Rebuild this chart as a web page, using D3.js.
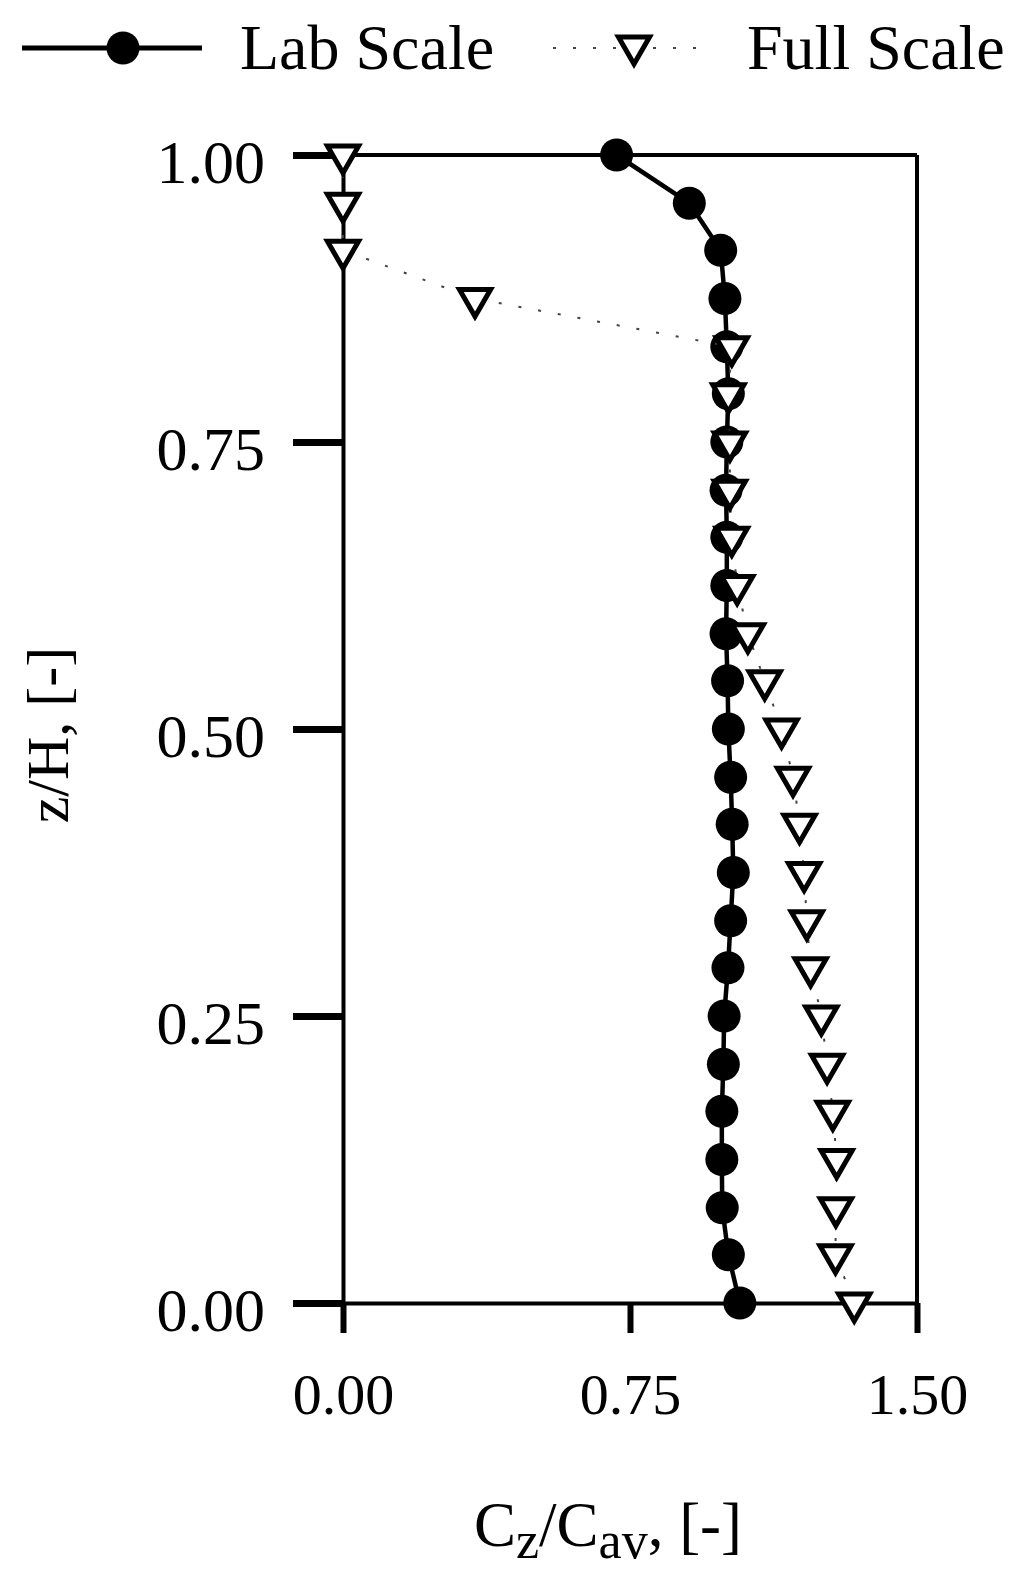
<!DOCTYPE html>
<html>
<head>
<meta charset="utf-8">
<script src="https://cdn.jsdelivr.net/npm/d3@7"></script>
<style>
  html, body { margin: 0; padding: 0; background: #fff; }
  svg { display: block; }
  text { font-family: "Liberation Serif", "Times New Roman", serif; fill: #000; }
</style>
</head>
<body>
<svg id="chart" width="1024" height="1584"></svg>
<script>
// ---- data ----
const zValues = [1.000, 0.958, 0.917, 0.875, 0.833, 0.792, 0.750, 0.708, 0.667, 0.625, 0.583, 0.542,
                 0.500, 0.458, 0.417, 0.375, 0.333, 0.292, 0.250, 0.208, 0.167, 0.125, 0.083, 0.042, 0.000];
const labScale = [0.715, 0.905, 0.987, 0.998, 1.003, 1.007, 1.003, 1.001, 1.003, 1.003, 1.001, 1.005,
                  1.007, 1.013, 1.017, 1.020, 1.013, 1.006, 0.996, 0.994, 0.990, 0.990, 0.991, 1.007, 1.037];
const fullScale = [0.000, 0.000, 0.000, 0.345, 1.016, 1.007, 1.011, 1.011, 1.016, 1.030, 1.058, 1.102,
                   1.146, 1.176, 1.193, 1.205, 1.212, 1.222, 1.250, 1.265, 1.280, 1.290, 1.288, 1.287, 1.336];
const xTicks = [0, 0.75, 1.5];
const yTicks = [0, 0.25, 0.5, 0.75, 1.0];
const seriesNames = ["Lab Scale", "Full Scale"];

// ---- layout ----
const svg = d3.select("#chart");
const pLeft = 343, pRight = 917, pTop = 155, pBottom = 1303;
const x = d3.scaleLinear().domain([0, 1.5]).range([pLeft, pRight]);
const y = d3.scaleLinear().domain([0, 1]).range([pBottom, pTop]);

// frame (top and right)
svg.append("line").attr("x1", pLeft).attr("x2", pRight).attr("y1", pTop).attr("y2", pTop)
  .attr("stroke", "#000").attr("stroke-width", 4);
svg.append("line").attr("x1", pRight).attr("x2", pRight).attr("y1", pTop).attr("y2", pBottom)
  .attr("stroke", "#000").attr("stroke-width", 4);

// x axis
const gx = svg.append("g").attr("transform", `translate(0,${pBottom})`)
  .call(d3.axisBottom(x).tickValues(xTicks).tickSize(30).tickSizeOuter(0).tickFormat(d3.format(".2f")));
gx.select(".domain").attr("stroke", "#000").attr("stroke-width", 4);
gx.selectAll(".tick line").attr("stroke", "#000").attr("stroke-width", 6);
gx.selectAll(".tick text").attr("y", 111).attr("dy", 0)
  .style("font-size", "58px").style("font-family", "Liberation Serif");

// y axis
const gy = svg.append("g").attr("transform", `translate(${pLeft},0)`)
  .call(d3.axisLeft(y).tickValues(yTicks).tickSize(50).tickSizeOuter(0).tickFormat(d3.format(".2f")));
gy.select(".domain").attr("stroke", "#000").attr("stroke-width", 4);
gy.selectAll(".tick line").attr("stroke", "#000").attr("stroke-width", 7);
gy.selectAll(".tick text").attr("x", -78).attr("dy", 27)
  .style("font-size", "62px").style("font-family", "Liberation Serif");

// axis titles
const xt = svg.append("text").attr("x", 608).attr("y", 1546).attr("text-anchor", "middle")
  .style("font-size", "63px");
xt.append("tspan").text("C");
xt.append("tspan").text("z").attr("dy", 12).style("font-size", "52px");
xt.append("tspan").text("/C").attr("dy", -12);
xt.append("tspan").text("av").attr("dy", 12).style("font-size", "52px");
xt.append("tspan").text(", [-]").attr("dy", -12);

svg.append("text").attr("transform", "translate(68,735) rotate(-90)")
  .attr("text-anchor", "middle").style("font-size", "60px").text("z/H, [-]");

// ---- series ----
const labPts = zValues.map((z, i) => [labScale[i], z]);
const fullPts = zValues.map((z, i) => [fullScale[i], z]);
const line = d3.line().x(d => x(d[0])).y(d => y(d[1]));

svg.append("path").attr("d", line(labPts)).attr("fill", "none")
  .attr("stroke", "#000").attr("stroke-width", 4.5);
svg.append("g").selectAll("circle").data(labPts).join("circle")
  .attr("cx", d => x(d[0])).attr("cy", d => y(d[1])).attr("r", 16.5).attr("fill", "#000");

svg.append("path").attr("d", line(fullPts)).attr("fill", "none")
  .attr("stroke", "#444").attr("stroke-width", 2).attr("stroke-dasharray", "3,17");
const tri = d3.symbol(d3.symbolTriangle, 420)();
svg.append("g").selectAll("path").data(fullPts).join("path")
  .attr("d", tri)
  .attr("transform", d => `translate(${x(d[0])},${y(d[1])}) rotate(180)`)
  .attr("fill", "#fff").attr("stroke", "#000").attr("stroke-width", 5)
  .attr("stroke-linejoin", "miter");

// ---- legend ----
const lg = svg.append("g");
lg.append("line").attr("x1", 22).attr("x2", 202).attr("y1", 48).attr("y2", 48)
  .attr("stroke", "#000").attr("stroke-width", 5);
lg.append("circle").attr("cx", 123).attr("cy", 48).attr("r", 16.5).attr("fill", "#000");
lg.append("text").attr("x", 240).attr("y", 69).style("font-size", "64px").text(seriesNames[0]);

lg.append("line").attr("x1", 553).attr("x2", 712).attr("y1", 48).attr("y2", 48)
  .attr("stroke", "#444").attr("stroke-width", 2).attr("stroke-dasharray", "3,17");
lg.append("path").attr("d", tri).attr("transform", "translate(634,46) rotate(180)")
  .attr("fill", "#fff").attr("stroke", "#000").attr("stroke-width", 5);
lg.append("text").attr("x", 747).attr("y", 69).style("font-size", "64px").text(seriesNames[1]);
</script>
</body>
</html>
